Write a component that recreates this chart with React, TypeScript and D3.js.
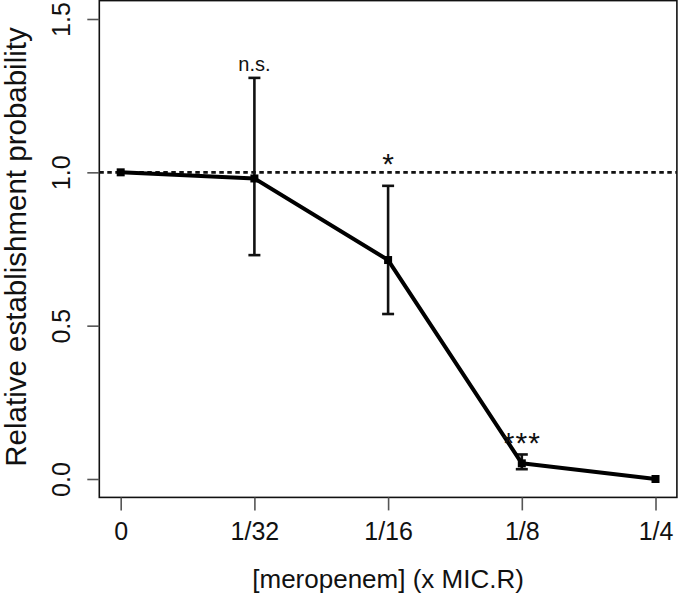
import React, { useEffect, useRef } from "react";
import * as d3 from "d3";

const categories = ["0", "1/32", "1/16", "1/8", "1/4"];
const means = [1.0, 0.98, 0.714, 0.051, 0.0];
const lowerCI = [1.0, 0.73, 0.538, 0.032, 0.0];
const upperCI = [1.0, 1.308, 0.956, 0.08, 0.0];
const sigLabels = ["", "n.s.", "*", "***", ""];
const sigY = [0, 1.33, 0.995, 0.085, 0];
const yTicks = [0, 0.5, 1.0, 1.5];
const refLine = 1.0;

const W = 678;
const H = 598;
const FONT = "'Liberation Sans', Arial, Helvetica, sans-serif";

export default function App() {
  const ref = useRef<SVGSVGElement | null>(null);

  useEffect(() => {
    const svg = d3.select(ref.current);
    svg.selectAll("*").remove();

    const x = d3.scaleLinear().domain([-0.16, 4.16]).range([99.3, 676.9]);
    const y = d3.scaleLinear().domain([-0.06, 1.56]).range([497.4, 0.6]);

    // box
    svg
      .append("rect")
      .attr("x", x(-0.16))
      .attr("y", y(1.56))
      .attr("width", x(4.16) - x(-0.16))
      .attr("height", y(-0.06) - y(1.56))
      .attr("fill", "none")
      .attr("stroke", "#111")
      .attr("stroke-width", 1.6);

    // y axis
    const yAxis = d3
      .axisLeft(y)
      .tickValues(yTicks)
      .tickFormat((d) => d3.format(".1f")(d as number))
      .tickSize(12);
    const gy = svg
      .append("g")
      .attr("transform", `translate(${x(-0.16)},0)`)
      .call(yAxis);
    gy.select(".domain").remove();
    gy.selectAll("line").attr("stroke", "#555").attr("stroke-width", 1.6);
    gy.selectAll("text")
      .attr("transform", "rotate(-90)")
      .attr("x", 0)
      .attr("y", -29)
      .attr("dy", 0)
      .attr("text-anchor", "middle")
      .attr("font-size", 25)
      .attr("font-family", FONT)
      .attr("fill", "#111");

    // x axis
    const xAxis = d3
      .axisBottom(x)
      .tickValues(categories.map((_, i) => i))
      .tickFormat((d) => categories[d as number])
      .tickSize(13)
      .tickPadding(12);
    const gx = svg
      .append("g")
      .attr("transform", `translate(0,${y(-0.06)})`)
      .call(xAxis);
    gx.select(".domain").remove();
    gx.selectAll("line").attr("stroke", "#555").attr("stroke-width", 1.6);
    gx.selectAll("text")
      .attr("font-size", 25)
      .attr("font-family", FONT)
      .attr("fill", "#111");

    // axis titles
    svg
      .append("text")
      .attr("x", (x(-0.16) + x(4.16)) / 2)
      .attr("y", 588)
      .attr("text-anchor", "middle")
      .attr("font-size", 26)
      .attr("font-family", FONT)
      .attr("fill", "#111")
      .text("[meropenem] (x MIC.R)");

    svg
      .append("text")
      .attr("transform", `translate(26,${(y(-0.06) + y(1.56)) / 2 - 2}) rotate(-90)`)
      .attr("text-anchor", "middle")
      .attr("font-size", 29.5)
      .attr("font-family", FONT)
      .attr("fill", "#111")
      .text("Relative establishment probability");

    // reference line
    svg
      .append("line")
      .attr("x1", x(-0.16))
      .attr("x2", x(4.16))
      .attr("y1", y(refLine))
      .attr("y2", y(refLine))
      .attr("stroke", "#111")
      .attr("stroke-width", 2.6)
      .attr("stroke-dasharray", "4.5,3.5");

    // error bars
    const idx = d3.range(categories.length).filter((i) => upperCI[i] !== lowerCI[i]);
    const eb = svg.append("g").attr("stroke", "#111").attr("stroke-width", 2.6);
    eb.selectAll("line.v")
      .data(idx)
      .join("line")
      .attr("x1", (i) => x(i))
      .attr("x2", (i) => x(i))
      .attr("y1", (i) => y(lowerCI[i]))
      .attr("y2", (i) => y(upperCI[i]));
    const caps: [number, number][] = [];
    idx.forEach((i) => {
      caps.push([i, lowerCI[i]]);
      caps.push([i, upperCI[i]]);
    });
    eb.selectAll("line.c")
      .data(caps)
      .join("line")
      .attr("x1", (d) => x(d[0]) - 6)
      .attr("x2", (d) => x(d[0]) + 6)
      .attr("y1", (d) => y(d[1]))
      .attr("y2", (d) => y(d[1]));

    // main line
    const line = d3
      .line<number>()
      .x((_, i) => x(i))
      .y((d) => y(d));
    svg
      .append("path")
      .attr("d", line(means))
      .attr("fill", "none")
      .attr("stroke", "#000")
      .attr("stroke-width", 4)
      .attr("stroke-linejoin", "round");

    // points
    svg
      .append("g")
      .selectAll("rect")
      .data(means)
      .join("rect")
      .attr("x", (_, i) => x(i) - 4)
      .attr("y", (d) => y(d) - 4)
      .attr("width", 8)
      .attr("height", 8)
      .attr("fill", "#000");

    // significance labels
    svg
      .append("g")
      .selectAll("text")
      .data(sigLabels.map((s, i) => ({ s, i })).filter((d) => d.s))
      .join("text")
      .attr("x", (d) => x(d.i))
      .attr("y", (d) => y(sigY[d.i]))
      .attr("text-anchor", "middle")
      .attr("font-family", FONT)
      .attr("font-size", (d) => (d.s === "n.s." ? 20 : 30))
      .attr("letter-spacing", (d) => (d.s === "***" ? 1 : 0))
      .attr("fill", "#111")
      .text((d) => d.s);
  }, []);

  return (
    <svg
      ref={ref}
      width={W}
      height={H}
      style={{ position: "absolute", left: 0, top: 0, background: "#fff" }}
    />
  );
}
